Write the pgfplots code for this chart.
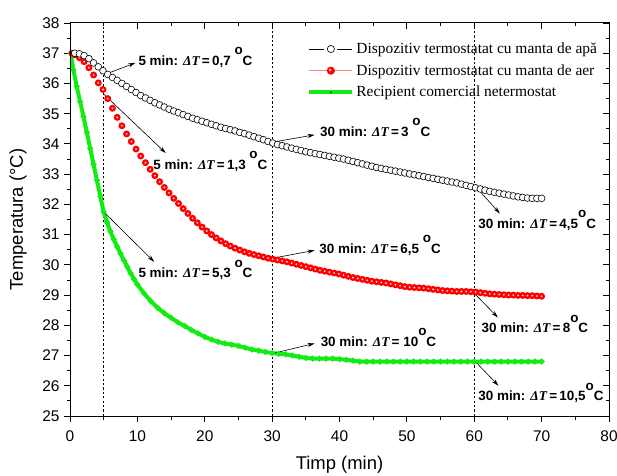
\documentclass[border=0pt]{standalone}
\usepackage{fontspec}
\setmainfont{Liberation Sans}
\newfontfamily\serif{Liberation Serif}
\usepackage{pgfplots}
\pgfplotsset{compat=1.18}
\usetikzlibrary{arrows.meta}

\definecolor{verde}{RGB}{20,235,20}
\definecolor{rosu}{RGB}{255,0,0}
\definecolor{rosudes}{RGB}{255,130,130}

\newcommand{\dt}{{\serif\bfseries\itshape ΔT}}
\newcommand{\grd}{\raisebox{0.8em}{o}C}

% red marker with a light centre, as in the original
\pgfdeclareplotmark{redball}{%
  \pgfpathcircle{\pgfpointorigin}{\pgfplotmarksize}%
  \pgfsetfillcolor{rosu}\pgfusepathqfill
  \pgfpathcircle{\pgfpointorigin}{0.3\pgfplotmarksize}%
  \pgfsetfillcolor{white!85!rosu}\pgfusepathqfill}

\begin{document}
\begin{tikzpicture}
\begin{axis}[
  name=ax, at={(0,0)},
  scale only axis, width=539bp, height=393bp,
  xmin=0, xmax=80, ymin=25, ymax=38,
  xtick={0,10,...,80}, ytick={25,26,...,38},
  minor x tick num=1, minor y tick num=1,
  xtick pos=left, ytick pos=left, tick align=outside,
  major tick length=6bp, minor tick length=3.5bp,
  axis line style={line width=1bp},
  every tick/.style={black, line width=0.9bp},
  ticklabel style={font=\fontsize{15.5}{18}\selectfont},
  xticklabel style={yshift=-5bp},
  yticklabel style={xshift=-1bp},
  /pgf/number format/assume math mode=true,
  xlabel={Timp (min)}, ylabel={Temperatura (°C)},
  label style={font=\fontsize{18.5}{22}\selectfont},
  xlabel style={at={(axis description cs:0.5,0)}, anchor=center, yshift=-49bp},
  ylabel style={at={(axis description cs:0,0.5)}, anchor=center, yshift=52bp},
  legend style={at={(axis description cs:0.44,0.955)}, anchor=north west,
    draw=none, fill=none, font=\serif\fontsize{15.5}{18}\selectfont,
    row sep=5.5bp, inner sep=0pt},
  legend cell align=left,
]
\addlegendimage{legend image code/.code={
  \draw[black, line width=0.6bp] (0bp,0bp) -- (15bp,0bp);
  \draw[black, line width=0.6bp] (28bp,0bp) -- (43bp,0bp);
  \draw[black, fill=white, line width=0.6bp] (21.5bp,0bp) circle (3.6bp);}}
\addlegendentry{Dispozitiv termostatat cu manta de apă}
\addlegendimage{legend image code/.code={
  \draw[rosudes, line width=1.2bp] (0bp,0bp) -- (43bp,0bp);
  \fill[rosu] (21.5bp,0bp) circle (3.8bp);
  \fill[white!75!rosu] (20.8bp,0.7bp) circle (1.2bp);}}
\addlegendentry{Dispozitiv termostatat cu manta de aer}
\addlegendimage{legend image code/.code={
  \draw[verde, line width=4bp] (0bp,0bp) -- (43bp,0bp);
  \fill[green!35!black] (21.5bp,0bp) circle (0.8bp);}}
\addlegendentry{Recipient comercial netermostat}

% dashed guide lines at 5, 30 and 60 min
\draw[black, line width=0.6bp, dash pattern=on 2.2bp off 2.2bp] (axis cs:5,25) -- (axis cs:5,38);
\draw[black, line width=0.6bp, dash pattern=on 2.2bp off 2.2bp] (axis cs:30,25) -- (axis cs:30,38);
\draw[black, line width=0.6bp, dash pattern=on 2.2bp off 2.2bp] (axis cs:60,25) -- (axis cs:60,38);

% recipient comercial netermostat
\addplot[verde, line width=4bp, mark=*, mark size=0.4bp,
  mark options={fill=green!40!black, draw=none}] coordinates {
(0.1,37.0) (0.5,36.45) (1,35.9) (1.5,35.4) (2,34.9) (2.5,34.38) (3,33.85) (3.5,33.32)
(4,32.8) (4.5,32.27) (5,31.75) (5.5,31.4) (6,31.1) (6.5,30.84) (7,30.6) (7.5,30.37)
(8,30.15) (8.5,29.93) (9,29.72) (9.5,29.53) (10,29.35) (11,29.05) (12,28.8) (13,28.58)
(14,28.4) (15,28.25) (16,28.1) (17,27.98) (18,27.85) (19,27.73) (20,27.62) (21,27.53)
(22,27.45) (23,27.40) (24,27.36) (25,27.32) (26,27.26) (27,27.2) (28,27.16) (29,27.12)
(30,27.08) (31,27.06) (32,27.04) (33,27.0) (34,26.96) (35,26.92) (36,26.9) (37,26.9)
(38,26.9) (39,26.9) (40,26.88) (41,26.86) (42,26.83) (43,26.8) (44,26.8) (45,26.8)
(46,26.8) (47,26.8) (48,26.8) (49,26.8) (50,26.8) (51,26.8) (52,26.8) (53,26.8)
(54,26.8) (55,26.8) (56,26.8) (57,26.8) (58,26.8) (59,26.8) (60,26.8) (61,26.8)
(62,26.8) (63,26.8) (64,26.8) (65,26.8) (66,26.8) (67,26.8) (68,26.8) (69,26.8)
(70,26.8)};

% manta de aer
\addplot[only marks, mark=redball, mark size=3.5bp] coordinates {
(0.3,37.00) (0.7,36.95) (1.4,36.85) (2.1,36.72) (2.8,36.52) (3.5,36.28) (4.2,36.02)
(4.9,35.80) (5.6,35.50) (6.3,35.18) (7.0,34.88) (7.7,34.60) (8.4,34.33) (9.1,34.08)
(9.8,33.83) (10.5,33.60) (11.2,33.38) (11.9,33.16) (12.6,32.95) (13.3,32.75) (14.0,32.56)
(14.7,32.38) (15.4,32.20) (16.1,32.03) (16.8,31.86) (17.5,31.70) (18.2,31.54) (18.9,31.39)
(19.6,31.25) (20.3,31.12) (21.0,31.00) (21.7,30.89) (22.4,30.79) (23.1,30.70) (23.8,30.62)
(24.5,30.55) (25.2,30.49) (25.9,30.43) (26.6,30.38) (27.3,30.34) (28.0,30.30) (28.7,30.26)
(29.4,30.22) (30.1,30.19) (30.8,30.16) (31.5,30.13) (32.2,30.10) (32.9,30.06) (33.6,30.02)
(34.3,29.98) (35.0,29.94) (35.7,29.90) (36.4,29.86) (37.1,29.82) (37.8,29.79) (38.5,29.76)
(39.2,29.73) (39.9,29.70) (40.6,29.66) (41.3,29.62) (42.0,29.58) (42.7,29.55) (43.4,29.52)
(44.1,29.49) (44.8,29.46) (45.5,29.44) (46.2,29.42) (46.9,29.40) (47.6,29.37) (48.3,29.34)
(49.0,29.31) (49.7,29.28) (50.4,29.26) (51.1,29.25) (51.8,29.24) (52.5,29.23) (53.2,29.21)
(53.9,29.19) (54.6,29.17) (55.3,29.15) (56.0,29.14) (56.7,29.13) (57.4,29.12) (58.1,29.12)
(58.8,29.12) (59.5,29.11) (60.2,29.10) (60.9,29.08) (61.6,29.06) (62.3,29.04) (63.0,29.03)
(63.7,29.02) (64.4,29.01) (65.1,29.00) (65.8,29.00) (66.5,28.99) (67.2,28.99) (67.9,28.98)
(68.6,28.98) (69.3,28.97) (70.0,28.96)};

% manta de apa
\addplot[only marks, mark=*, mark size=3.4bp,
  mark options={draw=black, fill=white, line width=0.6bp}] coordinates {
(0.7,37.00) (1.4,36.98) (2.1,36.92) (2.8,36.82) (3.5,36.68) (4.2,36.55) (4.9,36.42)
(5.6,36.30) (6.3,36.20) (7.0,36.10) (7.7,36.00) (8.4,35.90) (9.1,35.80) (9.8,35.70)
(10.5,35.60) (11.2,35.52) (11.9,35.44) (12.6,35.36) (13.3,35.29) (14.0,35.22) (14.7,35.15)
(15.4,35.09) (16.1,35.03) (16.8,34.97) (17.5,34.91) (18.2,34.85) (18.9,34.80) (19.6,34.75)
(20.3,34.70) (21.0,34.65) (21.7,34.60) (22.4,34.55) (23.1,34.51) (23.8,34.47) (24.5,34.43)
(25.2,34.38) (25.9,34.34) (26.6,34.29) (27.3,34.24) (28.0,34.19) (28.7,34.14) (29.4,34.08)
(30.1,34.03) (30.8,33.98) (31.5,33.94) (32.2,33.90) (32.9,33.86) (33.6,33.82) (34.3,33.78)
(35.0,33.74) (35.7,33.71) (36.4,33.68) (37.1,33.65) (37.8,33.62) (38.5,33.59) (39.2,33.56)
(39.9,33.53) (40.6,33.50) (41.3,33.46) (42.0,33.42) (42.7,33.38) (43.4,33.34) (44.1,33.30)
(44.8,33.26) (45.5,33.22) (46.2,33.19) (46.9,33.16) (47.6,33.13) (48.3,33.10) (49.0,33.07)
(49.7,33.04) (50.4,33.01) (51.1,32.98) (51.8,32.95) (52.5,32.92) (53.2,32.89) (53.9,32.86)
(54.6,32.83) (55.3,32.80) (56.0,32.77) (56.7,32.74) (57.4,32.71) (58.1,32.67) (58.8,32.63)
(59.5,32.59) (60.2,32.55) (60.9,32.51) (61.6,32.47) (62.3,32.43) (63.0,32.40) (63.7,32.37)
(64.4,32.34) (65.1,32.31) (65.8,32.28) (66.5,32.25) (67.2,32.23) (67.9,32.21) (68.6,32.20)
(69.3,32.20) (70.0,32.20)};

% annotations
\begin{scope}[-{Stealth[length=7bp,width=4bp]}, black, line width=0.6bp]
\draw (axis cs:5.2,36.3) -- (axis cs:9.7,36.68);
\draw (axis cs:5.0,35.65) -- (axis cs:14.2,33.7);
\draw (axis cs:5.0,31.75) -- (axis cs:12.5,30.1);
\draw (axis cs:30.1,34.06) -- (axis cs:36.3,34.3);
\draw (axis cs:30.1,30.22) -- (axis cs:36.3,30.48);
\draw (axis cs:30.1,27.07) -- (axis cs:36.3,27.4);
\draw (axis cs:60,32.64) -- (axis cs:63.8,31.7);
\draw (axis cs:60,29.06) -- (axis cs:63.5,28.26);
\draw (axis cs:60,26.84) -- (axis cs:63.6,26.0);
\end{scope}
\begin{scope}[every node/.style={anchor=base west, inner sep=0pt,
  font=\bfseries\fontsize{13.5}{16}\selectfont}]
\node at (axis cs:10.14,36.59) {5 min: \dt\,=\,0,7\ \grd};
\node at (axis cs:12.36,33.16) {5 min: \dt\,=\,1,3\ \grd};
\node at (axis cs:10.14,29.57) {5 min: \dt\,=\,5,3\ \grd};
\node at (axis cs:37.1,34.26) {30 min: \dt\,=\,3\ \grd};
\node at (axis cs:36.99,30.37) {30 min: \dt\,=\,6,5\ \grd};
\node at (axis cs:37.19,27.31) {30 min: \dt\,=\ 10\grd};
\node at (axis cs:60.58,31.2) {30 min: \dt\,=\,4,5\grd};
\node at (axis cs:61.08,27.75) {30 min: \dt\,=\,8\grd};
\node at (axis cs:60.58,25.5) {30 min: \dt\,=\,10,5\grd};
\end{scope}
\end{axis}

% top and right axes: ticks pointing inwards, no labels
\begin{axis}[
  at={(0,0)},
  scale only axis, width=539bp, height=393bp,
  xmin=0, xmax=80, ymin=25, ymax=38,
  xtick={0,10,...,80}, ytick={25,26,...,38},
  minor x tick num=1, minor y tick num=1,
  xtick pos=right, ytick pos=right, tick align=inside,
  major tick length=6bp, minor tick length=3.5bp,
  xticklabels={}, yticklabels={},
  axis line style={line width=1bp},
  every tick/.style={black, line width=0.9bp},
]
\end{axis}

\pgfresetboundingbox
\path[use as bounding box] ([shift={(-70bp,-59bp)}]ax.south west)
  rectangle ([shift={(8bp,23bp)}]ax.north east);
\end{tikzpicture}
\end{document}
